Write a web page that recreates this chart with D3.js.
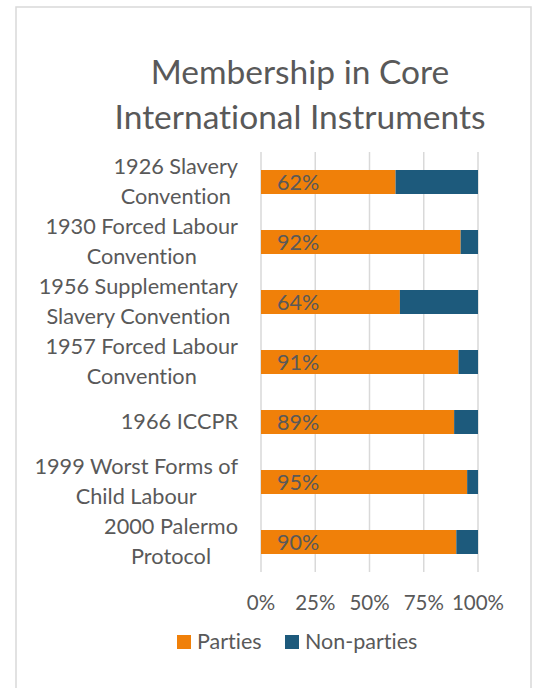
<!DOCTYPE html>
<html>
<head>
  <meta charset="utf-8">
  <title>Membership in Core International Instruments</title>
  <script src="https://cdn.jsdelivr.net/npm/d3@7"></script>
  <style>
    body { margin: 0; background: #fff; }
    text { font-family: Lato, "Noto Sans", sans-serif; fill: #595959; font-variant-ligatures: none; }
  </style>
</head>
<body>
  <svg id="chart" width="534" height="688"></svg>
  <script>
    var categories = [
      "1926 Slavery Convention",
      "1930 Forced Labour Convention",
      "1956 Supplementary Slavery Convention",
      "1957 Forced Labour Convention",
      "1966 ICCPR",
      "1999 Worst Forms of Child Labour",
      "2000 Palermo Protocol"
    ];
    var parties = [62, 92, 64, 91, 89, 95, 90];
    var nonParties = [38, 8, 36, 9, 11, 5, 10];
    var ticks = [0, 25, 50, 75, 100];
    var seriesNames = ["Parties", "Non-parties"];
    var colors = ["#f08009", "#1d5a7c"];

    var svg = d3.select("#chart");

    // outer chart border
    svg.append("rect").attr("x", 16).attr("y", 7).attr("width", 515).attr("height", 700)
      .attr("fill", "none").attr("stroke", "#d9d9d9").attr("stroke-width", 1.5);

    // title
    var title = svg.append("text").attr("text-anchor", "middle").style("font-size", "33.5px");
    title.append("tspan").attr("x", 300).attr("y", 84).text("Membership in Core");
    title.append("tspan").attr("x", 300).attr("y", 129).text("International Instruments");

    var x = d3.scaleLinear().domain([0, 100]).range([261, 478]);
    var y = d3.scaleBand().domain(d3.range(categories.length)).range([152, 572])
      .paddingInner(0.6).paddingOuter(0.3);

    // gridlines
    svg.append("g").selectAll("line").data(ticks).join("line")
      .attr("x1", d => x(d)).attr("x2", d => x(d))
      .attr("y1", 152).attr("y2", 572)
      .attr("stroke", "#d9d9d9").attr("stroke-width", 1.5);

    // stacked bars
    var rows = categories.map((c, i) => ({ i: i, p: parties[i], n: nonParties[i] }));
    var g = svg.append("g");
    g.selectAll("rect.p").data(rows).join("rect").attr("class", "p")
      .attr("x", x(0)).attr("y", d => y(d.i))
      .attr("width", d => x(d.p) - x(0)).attr("height", y.bandwidth())
      .attr("fill", colors[0]);
    g.selectAll("rect.n").data(rows).join("rect").attr("class", "n")
      .attr("x", d => x(d.p)).attr("y", d => y(d.i))
      .attr("width", d => x(d.p + d.n) - x(d.p)).attr("height", y.bandwidth())
      .attr("fill", colors[1]);

    // data labels
    g.selectAll("text.lbl").data(rows).join("text").attr("class", "lbl")
      .attr("x", x(0) + 16).attr("y", d => y(d.i) + y.bandwidth() / 2 + 8)
      .style("font-size", "21.5px")
      .text(d => d.p + "%");

    // x axis labels
    svg.append("g").selectAll("text").data(ticks).join("text")
      .attr("x", d => x(d)).attr("y", 610).attr("text-anchor", "middle")
      .style("font-size", "20.5px")
      .text(d => d + "%");

    // category labels, wrapped and centred per line, block right-aligned
    var maxW = 212, rightEdge = 238;
    categories.forEach(function(c, i) {
      var t = svg.append("text").style("font-size", "21.7px").attr("text-anchor", "middle");
      var words = c.split(" "), lines = [], cur = [];
      words.forEach(function(w) {
        var test = cur.concat([w]).join(" ");
        t.text(test);
        if (t.node().getComputedTextLength() > maxW && cur.length) {
          lines.push(cur.join(" "));
          cur = [w];
        } else cur.push(w);
      });
      lines.push(cur.join(" "));
      t.text(null);
      var widths = lines.map(function(l) { t.text(l); return t.node().getComputedTextLength(); });
      t.text(null);
      var blockW = d3.max(widths);
      var cx = rightEdge - blockW / 2;
      var cy = y(i) + y.bandwidth() / 2;
      var lh = 29.5;
      var first = cy + 7 - (lines.length - 1) * lh / 2;
      lines.forEach(function(l, k) {
        t.append("tspan").attr("x", cx).attr("y", first + k * lh).text(l);
      });
    });

    // legend
    var leg = svg.append("g");
    var legX = [177, 285];
    seriesNames.forEach(function(s, k) {
      leg.append("rect").attr("x", legX[k]).attr("y", 635).attr("width", 14).attr("height", 14)
        .attr("fill", colors[k]);
      leg.append("text").attr("x", legX[k] + 20).attr("y", 649).style("font-size", "21.5px").text(s);
    });
  </script>
</body>
</html>
